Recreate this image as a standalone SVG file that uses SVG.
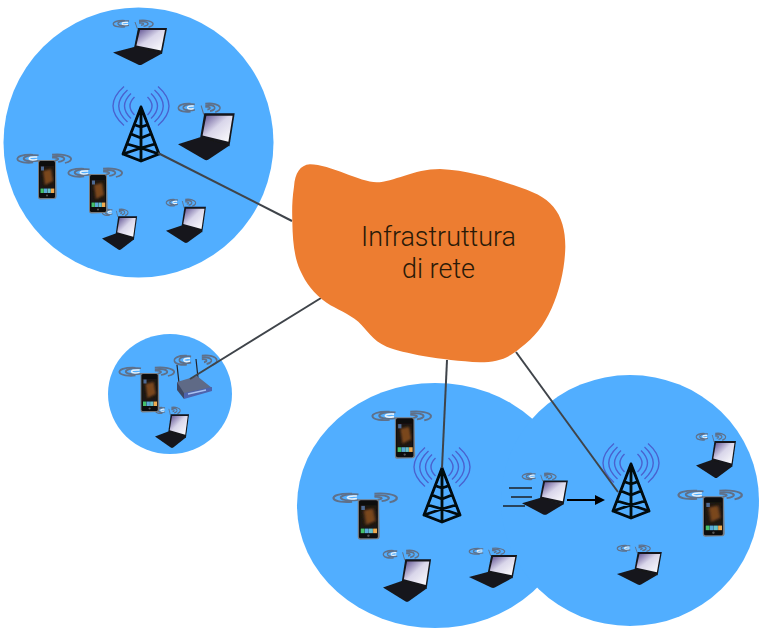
<svg xmlns="http://www.w3.org/2000/svg" xmlns:xlink="http://www.w3.org/1999/xlink" width="763" height="631" viewBox="0 0 763 631">
<style>
.cell{fill:#51aeff}
.link{fill:none;stroke:#3f444a;stroke-width:2}
.wave{fill:none;stroke:#5f7089;stroke-width:1.4}
.wave2{fill:none;stroke:#e8f2fa;stroke-width:1.2}
.tw{fill:none;stroke:#05070d;stroke-width:2.8;stroke-linejoin:round;stroke-linecap:round}
.rad{fill:none;stroke:#4a62cf;stroke-width:1.4}
.ic{filter:url(#soft)}
.lbl{font-family:"Roboto","Liberation Sans",sans-serif;font-size:28px;font-weight:300;fill:#2a1a08;text-anchor:middle}
</style>
<defs>
<filter id="soft" x="-10%" y="-10%" width="120%" height="120%"><feGaussianBlur stdDeviation="0.5"/></filter>
<filter id="blob" x="-30%" y="-30%" width="160%" height="160%"><feGaussianBlur stdDeviation="1.2"/></filter>
<linearGradient id="scr" x1="0" y1="0" x2="1" y2="1"><stop offset="0" stop-color="#5d4f90"/><stop offset="0.45" stop-color="#d9d6ea"/><stop offset="1" stop-color="#ffffff"/></linearGradient>
<marker id="ah" markerWidth="5" markerHeight="5" refX="4" refY="2.5" orient="auto"><path d="M0,0L5,2.5L0,5z" fill="#000"/></marker>
<g id="w">
<path class="wave" d="M12,0.6C4,0.2 -0.4,2.2 0.4,4.4C1.2,6.6 7,7.4 12,6.8"/>
<path class="wave" d="M16,1C8,0.4 4.6,2.4 5,3.9C5.6,5.8 11,6.2 16,5.4"/>
<path class="wave2" d="M15,2.4C10.500,2 8.800,3 9.200,3.900C9.600,4.700 12.500,4.800 15,4.300"/>
<path class="wave" d="M26,0.500C33,-0.300 39,1.200 40,3.400C40.400,5 38.600,6.400 35.500,7.200"/>
<path class="wave" d="M26,1.800C31,1.200 34.500,2.200 35,3.600C35.400,4.800 33.600,5.800 30.500,6.400"/>
<path class="wave" d="M26,3C28.500,2.800 30.500,3.200 30.500,4C30.500,4.600 29.500,5 28,5.200"/>
</g>
<g id="lap">
<use xlink:href="#w"/>
<path d="M22,2L24.500,9" stroke="#5f7089" stroke-width="1" fill="none"/>
<path d="M25,8L54,8L49,34L21,28z" fill="#14161a"/>
<path d="M27,10L52,10L48,30.500L23.400,25.500z" fill="url(#scr)"/>
<path d="M0,32.500L21,27L49,33.500L29,44.500Q27,45.500 25,44.500z" fill="#15161a"/>
</g>
<g id="ph">
<use xlink:href="#w" transform="scale(1.35 1.25)"/>
<path d="M21,7Q21,6 22,6L37,6Q39,6 39,8L39.600,42Q39.600,45 37,45L23,45.400Q21,45.400 21,43z" fill="#777b80"/>
<rect x="22" y="7" width="16" height="37" rx="1.500" fill="#0b0b0e"/>
<rect x="23" y="12" width="14" height="22" fill="#1f1812"/>
<path d="M26,17L34,15L36,27L28,31z" fill="#8a4f20" opacity="0.85" filter="url(#blob)"/>
<rect x="24" y="12.500" width="3" height="4" fill="#5a7fb5" opacity="0.8"/>
<rect x="23.500" y="34.500" width="3.300" height="4.500" fill="#45c06a"/><rect x="27" y="34.500" width="3.300" height="4.500" fill="#5aa8d8"/><rect x="30.500" y="34.500" width="3.300" height="4.500" fill="#66c0c8"/><rect x="34" y="34.500" width="3.300" height="4.500" fill="#eeaa50"/>
<circle cx="30" cy="41.500" r="1.100" fill="#555"/>
</g>
<g id="tow">
<path class="rad" d="M-17,0.500Q-39,20 -17,39.500M-13.500,4Q-31,20 -13.500,36M-10,7.500Q-23,20 -10,32.500M-6.500,11Q-15.500,20 -6.500,29M17,0.500Q39,20 17,39.500M13.500,4Q31,20 13.500,36M10,7.500Q23,20 10,32.500M6.500,11Q15.500,20 6.500,29"/>
<path class="tw" d="M0,21L-18,68L0,75L18,68L0,21L0,75M-18,68L0,62L18,68M-6,39L0,41L6,39M-10,48L0,52L10,48M-14,58L0,62L14,58"/>
</g>
</defs>

<g id="cell-top"><circle class="cell" cx="138.500" cy="142.500" r="135"/></g>
<g id="cell-small"><ellipse class="cell" cx="170" cy="394" rx="62" ry="60"/></g>
<g id="cell-bottom-left"><ellipse class="cell" cx="435" cy="505.500" rx="138" ry="122.500"/></g>
<g id="cell-bottom-right"><ellipse class="cell" cx="630" cy="500.500" rx="129" ry="125.500"/></g>

<g id="laptop-1" class="ic"><use xlink:href="#lap" transform="translate(113 20)"/></g>
<g id="laptop-2" class="ic"><use xlink:href="#lap" transform="translate(178 103) scale(1.05 1.27)"/></g>
<g id="laptop-3" class="ic"><use xlink:href="#lap" transform="translate(166 199) scale(.74 .98)"/></g>
<g id="laptop-4" class="ic"><use xlink:href="#lap" transform="translate(102 209) scale(.65 .91)"/></g>
<g id="laptop-5" class="ic"><use xlink:href="#lap" transform="translate(155 407) scale(.63 .91)"/></g>
<g id="laptop-6" class="ic"><use xlink:href="#lap" transform="translate(383 550) scale(.89 1.15)"/></g>
<g id="laptop-7" class="ic"><use xlink:href="#lap" transform="translate(469 548) scale(.89 .89)"/></g>
<g id="laptop-8" class="ic"><use xlink:href="#lap" transform="translate(522 473) scale(.85 .93)"/></g>
<g id="laptop-9" class="ic"><use xlink:href="#lap" transform="translate(617 545) scale(.83 .89)"/></g>
<g id="laptop-10" class="ic"><use xlink:href="#lap" transform="translate(696 433) scale(.74 1)"/></g>

<g id="phone-1" class="ic"><use xlink:href="#ph" transform="translate(17 154)"/></g>
<g id="phone-2" class="ic"><use xlink:href="#ph" transform="translate(68 168)"/></g>
<g id="phone-3" class="ic"><use xlink:href="#ph" transform="translate(119 367) scale(1.02 1)"/></g>
<g id="phone-4" class="ic"><use xlink:href="#ph" transform="translate(372 411) scale(1.09 1.05)"/></g>
<g id="phone-5" class="ic"><use xlink:href="#ph" transform="translate(333 493) scale(1.18 1.03)"/></g>
<g id="phone-6" class="ic"><use xlink:href="#ph" transform="translate(678 490) scale(1.18 1.03)"/></g>

<g id="tower-1" class="ic"><use xlink:href="#tow" transform="translate(141 86)"/></g>
<g id="tower-2" class="ic"><use xlink:href="#tow" transform="translate(442 447)"/></g>
<g id="tower-3" class="ic"><use xlink:href="#tow" transform="translate(631 443)"/></g>

<g id="router" class="ic">
<use xlink:href="#w" transform="translate(174 355) scale(1.07 1.4)"/>
<path d="M177,365L179,383M196,359L198,378" stroke="#20232a" stroke-width="1.200" fill="none"/>
<path d="M177,382L197,376L212,388L184,398z" fill="#5e6a86"/>
<path d="M177,382L184,393L184,399L177,390z" fill="#3e4763"/>
<path d="M184,393L212,387L212,391L184,399z" fill="#4d63ad"/>
<path d="M188,394L206,390" stroke="#a9c2f2" stroke-width="1.400" fill="none"/>
</g>

<g id="connectors">
<path class="link" d="M158,153L292,221"/>
<path class="link" d="M321,298L190,379"/>
<path class="link" d="M447,360L442,468"/>
<path class="link" d="M516,352L618,492"/>
<path d="M567,500L603,500" fill="none" stroke="#000" stroke-width="2" marker-end="url(#ah)"/>
<path d="M509,488L532,488M511,497L532,497M503,506L525,506" fill="none" stroke="#1c2228" stroke-width="1.300"/>
</g>

<g id="cloud">
<path fill="#ed7d31" transform="translate(280 150) scale(.33333)" d="M90,43C60,45 45,70 42,110C36,150 36,180 37,215C38,270 42,320 60,360C78,400 100,430 140,458C170,478 205,490 235,515C262,540 275,570 320,590C370,610 480,630 600,637C650,637 685,625 720,595C765,560 790,530 815,475C840,420 855,350 856,290C856,240 845,200 820,170C795,140 760,125 700,105C640,85 560,60 480,57C400,57 340,97 290,97C240,97 150,43 90,43z"/>
<text class="lbl" x="438.500" y="246" textLength="155" lengthAdjust="spacingAndGlyphs">Infrastruttura</text>
<text class="lbl" x="438.500" y="278" textLength="73" lengthAdjust="spacingAndGlyphs">di rete</text>
</g>
</svg>
